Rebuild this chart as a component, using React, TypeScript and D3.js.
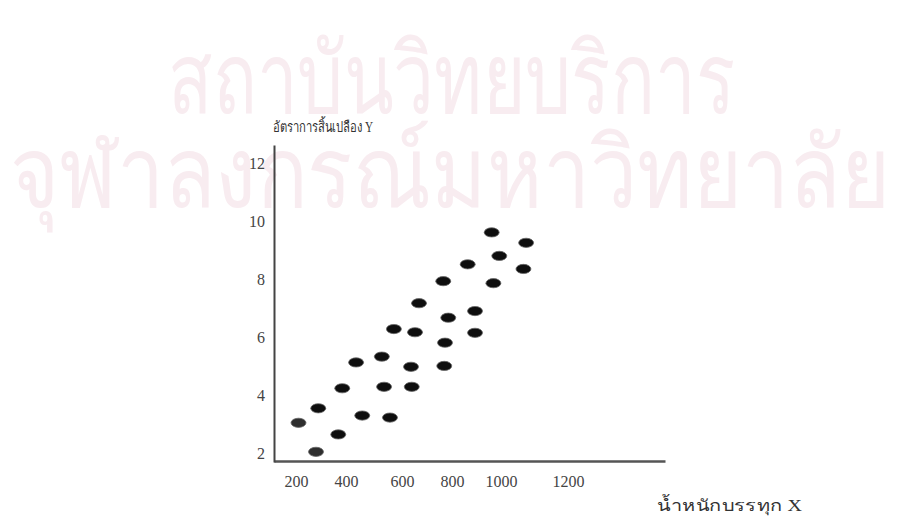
import React, { useEffect, useRef } from 'react';
import * as d3 from 'd3';

// weights (x) and consumption rate (y)
const loadWeight = [210, 280, 289, 369, 385, 436, 458, 528, 536, 557, 571, 636, 639, 652, 668, 765, 785, 772, 769, 864, 894, 894, 962, 993, 969, 1075, 1067];
const fuelRate = [3.05, 2.05, 3.55, 2.65, 4.24, 5.13, 3.3, 5.33, 4.29, 3.23, 6.28, 4.98, 4.29, 6.17, 7.17, 7.93, 6.67, 5.81, 5.01, 8.51, 6.9, 6.15, 9.61, 8.8, 7.86, 9.25, 8.35];

const xTicks = [200, 400, 600, 800, 1000, 1200];
const yTicks = [2, 4, 6, 8, 10, 12];

const yTitle = 'อัตราการสิ้นเปลือง Y';
const xTitle = 'น้ำหนักบรรทุก X';
const watermark = ['สถาบันวิทยบริการ', 'จุฬาลงกรณ์มหาวิทยาลัย'];

const App = () => {
    const svgRef = useRef<SVGSVGElement>(null);

    useEffect(() => {
        const width = 903, height = 519;
        const svg = d3.select(svgRef.current).attr('width', width).attr('height', height);
        svg.selectAll('*').remove();

        svg.append('rect').attr('width', width).attr('height', height).attr('fill', '#fff');

        // faded watermark behind the chart
        const wm = svg.append('g').attr('fill', '#f8ecf0')
            .style('font-family', '"Noto Sans", "DejaVu Sans", sans-serif');
        wm.append('text').attr('x', 168).attr('y', 113).attr('font-size', 98)
            .attr('textLength', 567).attr('lengthAdjust', 'spacingAndGlyphs').text(watermark[0]);
        wm.append('text').attr('x', 10).attr('y', 207).attr('font-size', 98)
            .attr('textLength', 880).attr('lengthAdjust', 'spacingAndGlyphs').text(watermark[1]);

        // hand drawn axis: the x labels are not evenly spaced
        const x = d3.scaleLinear()
            .domain([110, ...xTicks, 1490])
            .range([274, 296, 346, 402, 452, 501, 568, 665]);

        const y = d3.scaleLinear()
            .domain([1.7, 12.62])
            .range([462, 145]);

        const font = '"Liberation Serif", "DejaVu Serif", serif';

        const gx = svg.append('g')
            .attr('transform', `translate(0,${y(1.7) - 1})`)
            .call(d3.axisBottom(x).tickValues(xTicks).tickSize(0).tickPadding(15).tickFormat(d3.format('d')));
        gx.select('.domain').attr('stroke', '#555').attr('stroke-width', 2.5);
        gx.selectAll('text').attr('font-size', 16).attr('fill', '#444').style('font-family', font);

        const gy = svg.append('g')
            .attr('transform', `translate(${x(110)},0)`)
            .call(d3.axisLeft(y).tickValues(yTicks).tickSize(0).tickPadding(9));
        gy.select('.domain').attr('stroke', '#444').attr('stroke-width', 2);
        gy.selectAll('text').attr('font-size', 16).attr('fill', '#444').style('font-family', font);

        // the dots
        svg.append('g')
            .selectAll('ellipse')
            .data(loadWeight)
            .enter()
            .append('ellipse')
            .attr('cx', (d) => x(d))
            .attr('cy', (d, i) => y(fuelRate[i]))
            .attr('rx', 7.5)
            .attr('ry', 4.6)
            .attr('fill', (d, i) => (i < 2 ? '#2e2e2e' : '#0e0e0e'))
            .attr('stroke', '#666')
            .attr('stroke-width', 0.8);

        // axis titles
        svg.append('text').attr('x', 273).attr('y', 132).attr('font-size', 15)
            .attr('fill', '#333').attr('textLength', 100).attr('lengthAdjust', 'spacingAndGlyphs')
            .style('font-family', font).text(yTitle);
        svg.append('text').attr('x', 657).attr('y', 511).attr('font-size', 16)
            .attr('fill', '#333').attr('textLength', 145).attr('lengthAdjust', 'spacingAndGlyphs')
            .style('font-family', font).text(xTitle);
    }, []);

    return <svg ref={svgRef} style={{ position: 'absolute', left: 0, top: 0 }}></svg>;
};

export default App;
